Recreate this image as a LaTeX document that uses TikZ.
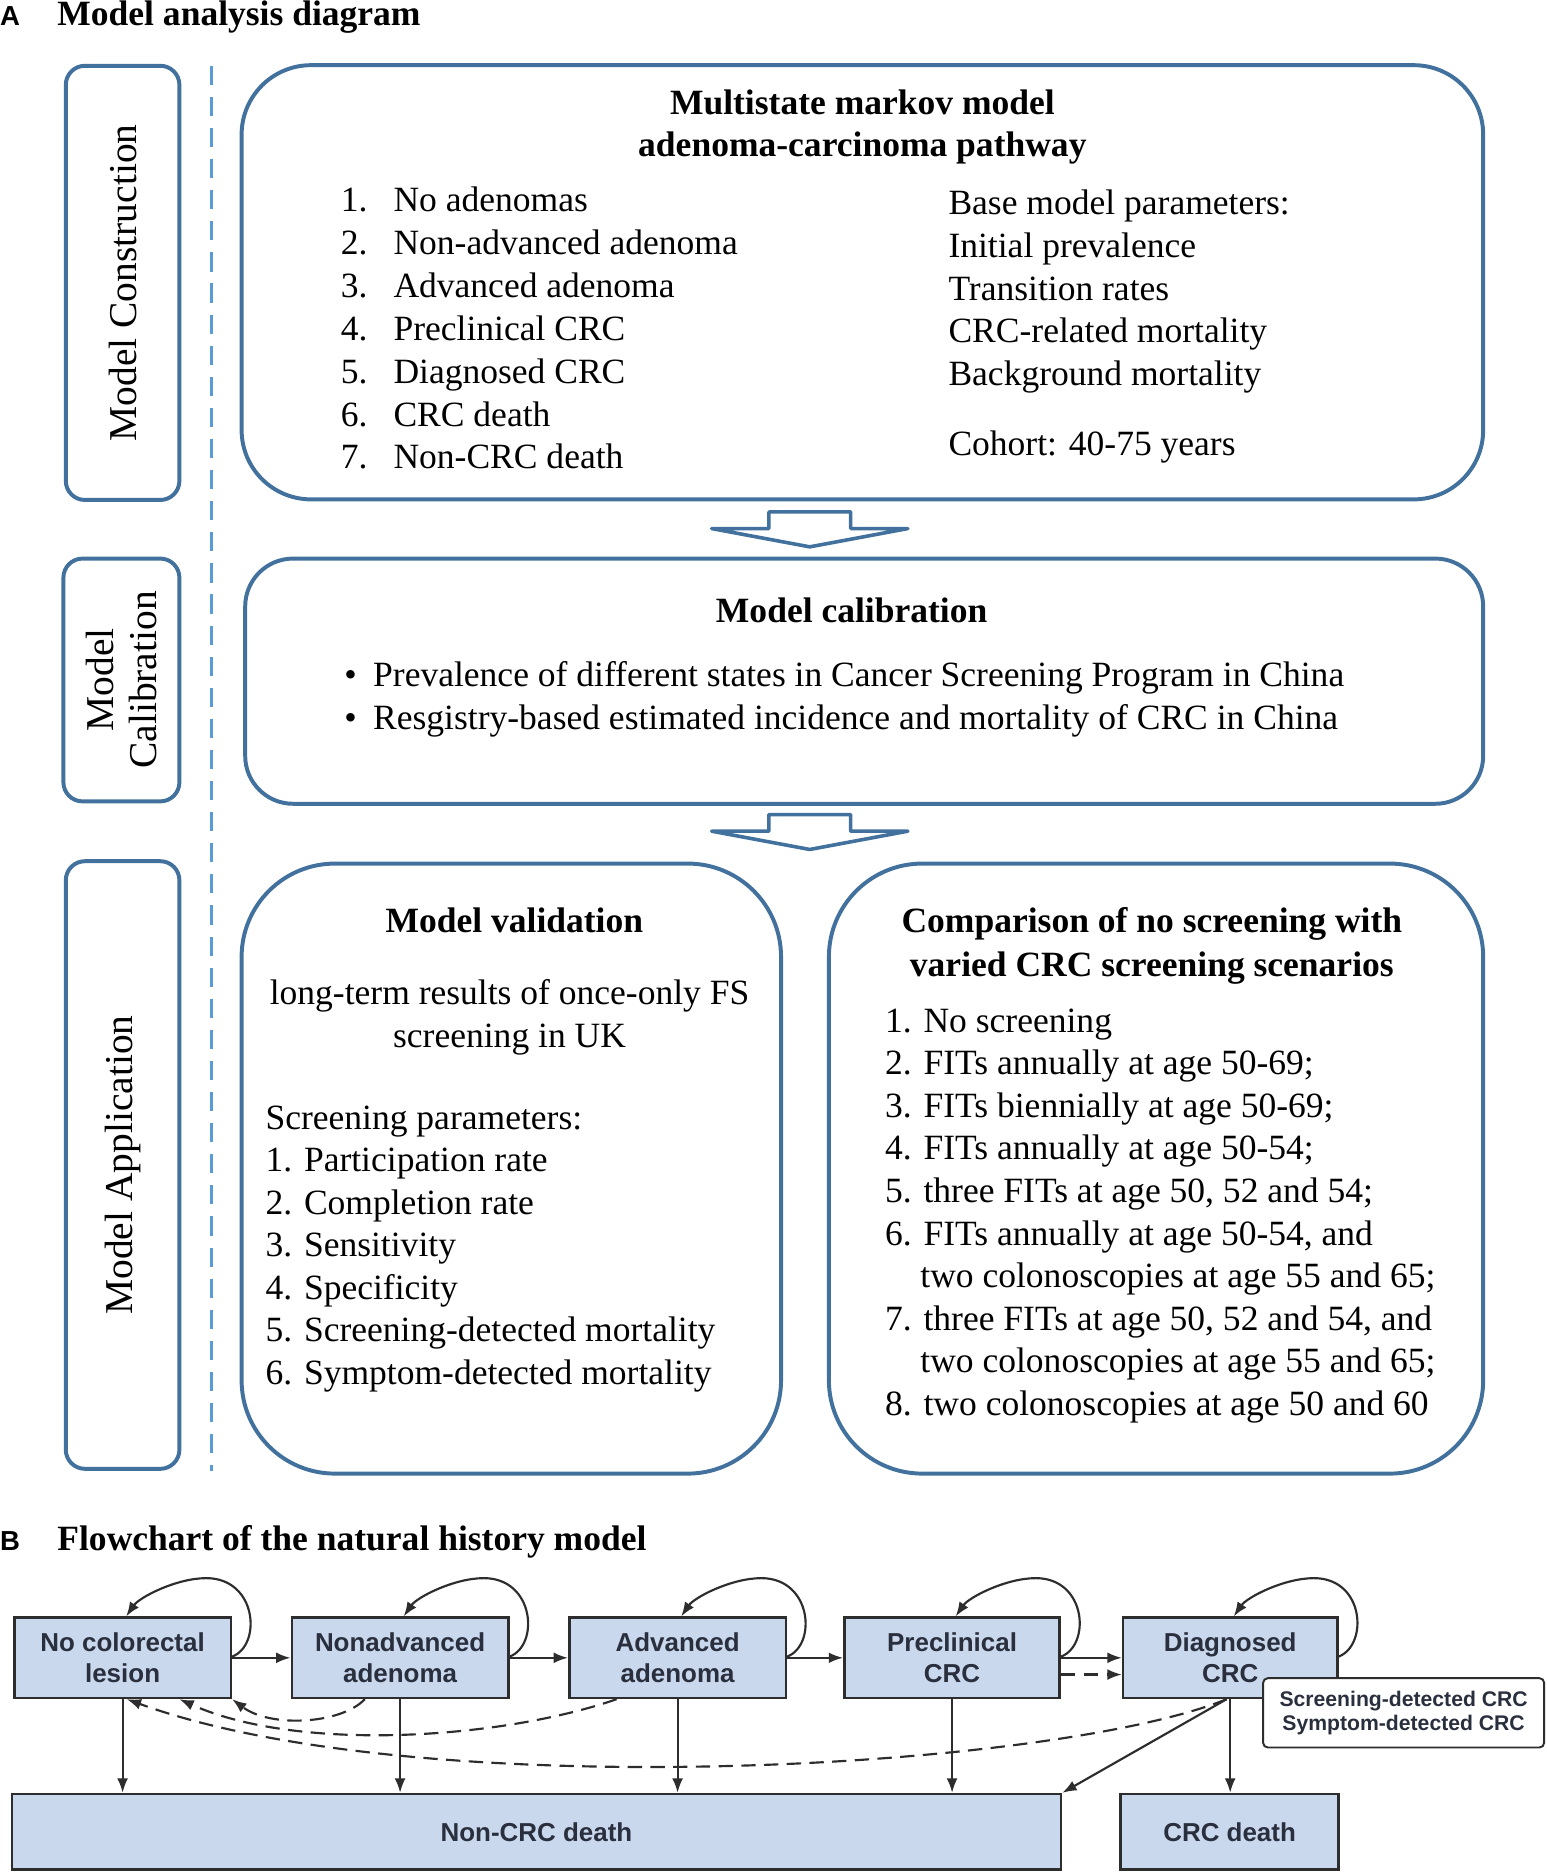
\documentclass[tikz,border=0pt]{standalone}
\usepackage{fontspec}
\setmainfont{Liberation Serif}
\newfontfamily\sansf{Liberation Sans}
\usetikzlibrary{arrows.meta,calc}
\definecolor{boxblue}{RGB}{65,113,156}
\definecolor{dashblue}{RGB}{91,155,213}
\definecolor{fblue}{RGB}{201,216,236}
\definecolor{fgray}{RGB}{45,45,45}
\definecolor{ftxt}{RGB}{42,47,62}
\newcommand\fs{\fontsize{29.7}{35.7}\selectfont}
\newcommand\hollowarrow[2]{\draw[harrow] (#1-34.2,#2) -- (#1+34.2,#2) -- (#1+34.2,#2+13.9) -- (#1+82,#2+13.9) -- (#1,#2+29.2) -- (#1-82,#2+13.9) -- (#1-34.2,#2+13.9) -- cycle;}
\newcommand\myloop[1]{\draw[farrow] ([yshift=1pt]#1.east) .. controls +(25,-9.5) and +(42.5,0) .. ($(#1.north)+(70,-32)$) .. controls +(-25,0) and +(11,-16) .. ([xshift=3pt]#1.north);}
\begin{document}
\begin{tikzpicture}[x=1pt,y=-1pt,
  tx/.style={font=\fs, anchor=base west, inner sep=0pt, outer sep=0pt},
  txc/.style={tx, anchor=base},
  txb/.style={tx, font=\bfseries\fs},
  txbc/.style={txb, anchor=base},
  hd/.style={tx, font=\sansf\bfseries\fontsize{23}{26}\selectfont},
  bigbox/.style={draw=boxblue, line width=3.3pt, inner sep=0pt, fill=none},
  lbox/.style={draw=boxblue, line width=3.3pt, rounded corners=16pt, inner sep=0pt},
  rot/.style={rotate=90, font=\fontsize{33}{36}\selectfont, align=center, inner sep=0pt},
  harrow/.style={draw=boxblue, line width=3pt, fill=white, line join=round},
  fbox/.style={draw=fgray, fill=fblue, line width=2.2pt, inner sep=0pt, font=\sansf\bfseries\fontsize{21.7}{26.5}\selectfont, text=ftxt, align=center},
  farrow/.style={-{Latex[length=12pt,width=9pt]}, draw=fgray, line width=1.8pt},
  fdash/.style={farrow, dash pattern=on 12pt off 7pt}
]
\useasboundingbox (0,0) rectangle (1292.6,1567.6);

% ---------- Part A ----------
\node[hd] (tA) at (0,21) {A};
\node[txb] (tAt) at (48,21) {Model analysis diagram};

\node[lbox, minimum width=95pt, minimum height=363pt] (l1) at (102.5,236.5) {};
\node[lbox, minimum width=97pt, minimum height=203pt] (l2) at (101.5,568.5) {};
\node[lbox, minimum width=95pt, minimum height=508pt] (l3) at (102.5,974) {};
\node[rot] (r1) at (l1.center) {Model Construction};
\node[rot] (r2) at (l2.center) {Model\\Calibration};
\node[rot] (r3) at (l3.center) {Model Application};

\draw[dashblue, line width=2.5pt, dash pattern=on 16pt off 10pt] (177,55) -- (177,1230);

\node[bigbox, rounded corners=58pt, minimum width=1038pt, minimum height=363pt] (b1) at (721,236) {};
\node[bigbox, rounded corners=40pt, minimum width=1035pt, minimum height=205pt] (b2) at (722.5,569.5) {};
\node[bigbox, rounded corners=78pt, minimum width=451pt, minimum height=510pt] (b3) at (427.5,977) {};
\node[bigbox, rounded corners=78pt, minimum width=547pt, minimum height=510pt] (b4) at (966.5,977) {};

\hollowarrow{677}{428}
\hollowarrow{677}{681}

% box 1
\node[txbc] (b1t1) at (721,95.5) {Multistate markov model};
\node[txbc] (b1t2) at (721,131) {adenoma-carcinoma pathway};
\node[tx] (n1) at (285,177.2) {1.}; \node[tx] (s1) at (329,177.2) {No adenomas};
\node[tx] (n2) at (285,213.0) {2.}; \node[tx] (s2) at (329,213.0) {Non-advanced adenoma};
\node[tx] (n3) at (285,248.8) {3.}; \node[tx] (s3) at (329,248.8) {Advanced adenoma};
\node[tx] (n4) at (285,284.6) {4.}; \node[tx] (s4) at (329,284.6) {Preclinical CRC};
\node[tx] (n5) at (285,320.4) {5.}; \node[tx] (s5) at (329,320.4) {Diagnosed CRC};
\node[tx] (n6) at (285,356.2) {6.}; \node[tx] (s6) at (329,356.2) {CRC death};
\node[tx] (n7) at (285,392.0) {7.}; \node[tx] (s7) at (329,392.0) {Non-CRC death};
\node[tx] (p1) at (793,179.5) {Base model parameters:};
\node[tx] (p2) at (793,215.2) {Initial prevalence};
\node[tx] (p3) at (793,250.9) {Transition rates};
\node[tx] (p4) at (793,286.6) {CRC-related mortality};
\node[tx] (p5) at (793,322.3) {Background mortality};
\node[tx] (p6) at (793,381) {Cohort: 40-75 years};

% box 2
\node[txbc] (b2t) at (712,520.5) {Model calibration};
\node[tx] (bu1) at (288,574) {•}; \node[tx] (c1) at (312,574) {Prevalence of different states in Cancer Screening Program in China};
\node[tx] (bu2) at (288,609.5) {•}; \node[tx] (c2) at (312,609.5) {Resgistry-based estimated incidence and mortality of CRC in China};

% box 3
\node[txbc] (b3t) at (430,780) {Model validation};
\node[txc] (v1) at (426,840) {long-term results of once-only FS};
\node[txc] (v2) at (426,876) {screening in UK};
\node[tx] (v3) at (222,944) {Screening parameters:};
\node[tx] (v4) at (222,979.5) {1. Participation rate};
\node[tx] (v5) at (222,1015.1) {2. Completion rate};
\node[tx] (v6) at (222,1050.7) {3. Sensitivity};
\node[tx] (v7) at (222,1086.3) {4. Specificity};
\node[tx] (v8) at (222,1121.9) {5. Screening-detected mortality};
\node[tx] (v9) at (222,1157.5) {6. Symptom-detected mortality};

% box 4
\node[txbc] (b4t1) at (963,780) {Comparison of no screening with};
\node[txbc] (b4t2) at (963,816) {varied CRC screening scenarios};
\node[tx] (w1) at (740,863.0) {1. No screening};
\node[tx] (w2) at (740,898.6) {2. FITs annually at age 50-69;};
\node[tx] (w3) at (740,934.2) {3. FITs biennially at age 50-69;};
\node[tx] (w4) at (740,969.8) {4. FITs annually at age 50-54;};
\node[tx] (w5) at (740,1005.4) {5. three FITs at age 50, 52 and 54;};
\node[tx] (w6) at (740,1041.0) {6. FITs annually at age 50-54, and};
\node[tx] (w6b) at (769.5,1076.6) {two colonoscopies at age 55 and 65;};
\node[tx] (w7) at (740,1112.2) {7. three FITs at age 50, 52 and 54, and};
\node[tx] (w7b) at (769.5,1147.8) {two colonoscopies at age 55 and 65;};
\node[tx] (w8) at (740,1183.4) {8. two colonoscopies at age 50 and 60};

% ---------- Part B ----------
\node[hd] (tB) at (0,1296.5) {B};
\node[txb] (tBt) at (48,1296.5) {Flowchart of the natural history model};

\node[fbox, minimum width=181pt, minimum height=67pt] (nocol) at (102.5,1386) {No colorectal\\lesion};
\node[fbox, minimum width=181pt, minimum height=67pt] (nonadv) at (334.5,1386) {Nonadvanced\\adenoma};
\node[fbox, minimum width=181pt, minimum height=67pt] (adv) at (566.5,1386) {Advanced\\adenoma};
\node[fbox, minimum width=180pt, minimum height=67pt] (pre) at (796,1386) {Preclinical\\CRC};
\node[fbox, minimum width=179pt, minimum height=67pt] (diag) at (1028.5,1386) {Diagnosed\\CRC};
\node[fbox, minimum width=877pt, minimum height=63pt] (noncrc) at (448.5,1531.5) {Non-CRC death};
\node[fbox, minimum width=182pt, minimum height=63pt] (crcd) at (1028,1531.5) {CRC death};

\draw[farrow] (nocol.east) -- (nonadv.west);
\draw[farrow] (nonadv.east) -- (adv.west);
\draw[farrow] (adv.east) -- (pre.west);
\draw[farrow] (pre.east) -- (diag.west);
\draw[fdash] ([yshift=-14pt]pre.east) -- ([yshift=-14pt]diag.west);

\myloop{nocol}
\myloop{nonadv}
\myloop{adv}
\myloop{pre}
\myloop{diag}

\draw[farrow] (nocol.south) -- (nocol.south |- noncrc.north);
\draw[farrow] (nonadv.south) -- (nonadv.south |- noncrc.north);
\draw[farrow] (adv.south) -- (adv.south |- noncrc.north);
\draw[farrow] (pre.south) -- (pre.south |- noncrc.north);
\draw[farrow] (diag.south) -- (diag.south |- crcd.north);
\draw[farrow] ([xshift=-3pt]diag.south) -- (noncrc.north east);

\draw[fdash] ([xshift=-29.5pt]nonadv.south) .. controls +(-20,21) and +(32,24) .. (nocol.south east);
\draw[fdash] ([xshift=-51pt]adv.south) .. controls +(-95,33) and +(100,45) .. ([xshift=47.5pt]nocol.south);
\draw[fdash] ([xshift=-3pt]diag.south) .. controls +(-145,59) and +(244,89) .. ([xshift=3.5pt]nocol.south);

\node[draw=fgray, fill=white, line width=1.6pt, rounded corners=4pt, minimum width=235pt, minimum height=58pt, inner sep=0pt, align=center, font=\sansf\bfseries\fontsize{17.7}{19.6}\selectfont, text=ftxt] (lab) at (1173.5,1432) {Screening-detected CRC\\Symptom-detected CRC};
\end{tikzpicture}
\end{document}
